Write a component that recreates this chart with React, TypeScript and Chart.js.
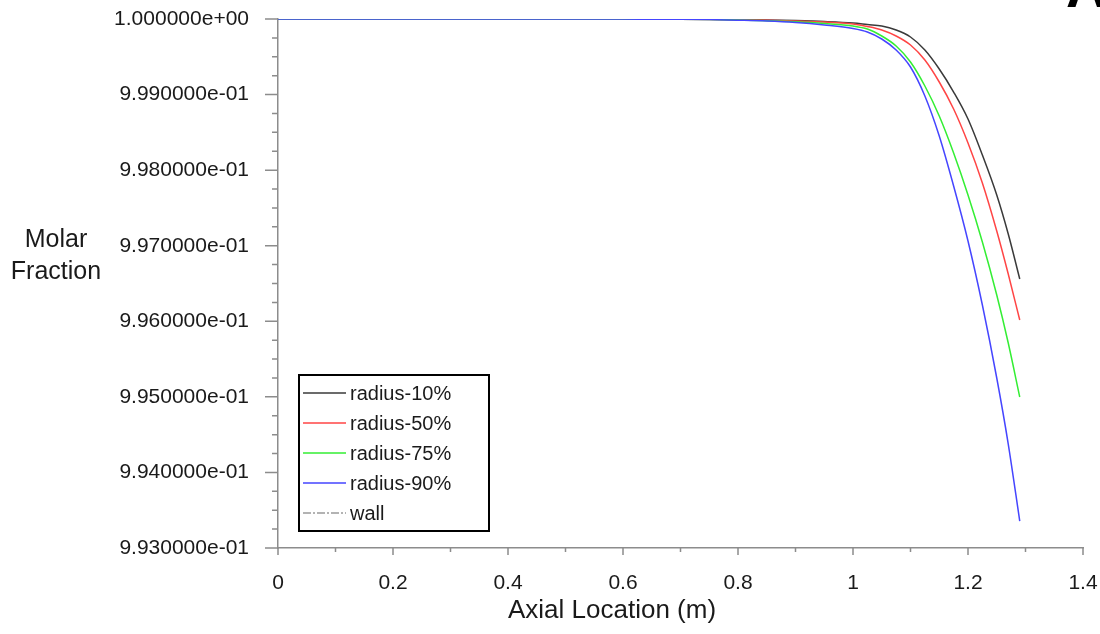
import React, { useEffect, useRef } from "react";
import { Chart, registerables } from "chart.js";

Chart.register(...registerables);

// ---------- data ----------
const axialLocation = [0, 0.1, 0.2, 0.3, 0.4, 0.5, 0.6, 0.7, 0.75, 0.8, 0.85, 0.9, 0.95, 1.0, 1.025, 1.05, 1.075, 1.1, 1.125, 1.15, 1.175, 1.2, 1.225, 1.25, 1.27, 1.29];

const radius10 = [1, 1, 1, 1, 1, 1, 0.999999, 0.9999974, 0.9999954, 0.9999921, 0.9999868, 0.9999788, 0.9999669, 0.9999471, 0.9999272, 0.9999074, 0.9998544, 0.9997618, 0.9995898, 0.9993383, 0.999034, 0.9986767, 0.9982003, 0.997671, 0.9971549, 0.9965594];
const radius50 = [1, 1, 1, 1, 1, 1, 0.9999987, 0.9999974, 0.9999947, 0.9999907, 0.9999841, 0.9999735, 0.9999603, 0.9999338, 0.9999008, 0.9998544, 0.999775, 0.9996559, 0.9994574, 0.9991663, 0.998809, 0.9983591, 0.9978298, 0.9971946, 0.9966256, 0.9960169];
const radius75 = [1, 1, 1, 1, 1, 1, 0.9999987, 0.9999967, 0.9999934, 0.9999868, 0.9999775, 0.9999629, 0.9999405, 0.9999074, 0.9998677, 0.999775, 0.9996427, 0.999431, 0.9991134, 0.9987164, 0.9982268, 0.997671, 0.997049, 0.9963477, 0.9957125, 0.9949979];
const radius90 = [1, 1, 1, 1, 1, 1, 0.9999987, 0.999996, 0.9999921, 0.9999841, 0.9999735, 0.9999537, 0.9999206, 0.9998743, 0.999828, 0.9997353, 0.9995898, 0.9993648, 0.9989811, 0.9984517, 0.9977901, 0.9970623, 0.9962154, 0.9952494, 0.9943759, 0.993357];
const wall: number[] = [];

const seriesLabels = ["radius-10%", "radius-50%", "radius-75%", "radius-90%", "wall"];

const xTickValues = [0, 0.2, 0.4, 0.6, 0.8, 1, 1.2, 1.4];
const xTickLabels = ["0", "0.2", "0.4", "0.6", "0.8", "1", "1.2", "1.4"];
const yTickValues = [0.993, 0.994, 0.995, 0.996, 0.997, 0.998, 0.999, 1.0];
const yTickLabels = ["9.930000e-01", "9.940000e-01", "9.950000e-01", "9.960000e-01", "9.970000e-01", "9.980000e-01", "9.990000e-01", "1.000000e+00"];

const xTitle = "Axial Location (m)";
const yTitleLines = ["Molar", "Fraction"];

// ---------- styles ----------
const FONT = "'Liberation Sans', Arial, Helvetica, sans-serif";
const AXIS_COLOR = "#8c8c8c";
const TEXT_COLOR = "#1a1a1a";

function toPoints(xs: number[], ys: number[]) {
  return ys.map((y, i) => ({ x: xs[i], y }));
}

function findIndex(vals: number[], v: number) {
  for (let i = 0; i < vals.length; i++) if (Math.abs(vals[i] - v) < 1e-9) return i;
  return -1;
}

const ticksPlugin = {
  id: "majorMinorTicks",
  afterDraw(chart: any) {
    const ctx = chart.ctx;
    const xs = chart.scales.x;
    const ys = chart.scales.y;
    ctx.save();
    ctx.strokeStyle = AXIS_COLOR;
    ctx.lineWidth = 1.5;
    ctx.beginPath();
    ys.ticks.forEach((t: any) => {
      const py = ys.getPixelForValue(t.value);
      const len = findIndex(yTickValues, t.value) >= 0 ? 13 : 6;
      ctx.moveTo(ys.right - len, py);
      ctx.lineTo(ys.right, py);
    });
    xs.ticks.forEach((t: any) => {
      const px = xs.getPixelForValue(t.value);
      const len = findIndex(xTickValues, t.value) >= 0 ? 7 : 4;
      ctx.moveTo(px, xs.top);
      ctx.lineTo(px, xs.top + len);
    });
    ctx.stroke();
    ctx.restore();
  },
};

const decorPlugin = {
  id: "decor",
  afterDraw(chart: any) {
    const ctx = chart.ctx;
    const area = chart.chartArea;
    ctx.save();
    // axis titles
    ctx.fillStyle = TEXT_COLOR;
    ctx.font = `26px ${FONT}`;
    ctx.textAlign = "center";
    ctx.textBaseline = "middle";
    ctx.fillText(xTitle, area.left + 334, area.bottom + 63);
    ctx.font = `25px ${FONT}`;
    yTitleLines.forEach((line, i) => {
      ctx.fillText(line, area.left - 222, area.top + 221 + i * 32);
    });

    // legend box
    const lx = area.left + 21;
    const ly = area.top + 356;
    ctx.lineWidth = 2;
    ctx.strokeStyle = "#000";
    ctx.strokeRect(lx, ly, 190, 156);
    ctx.font = `20px ${FONT}`;
    ctx.textAlign = "left";
    chart.data.datasets.forEach((ds: any, i: number) => {
      const yy = ly + 18 + i * 30;
      ctx.save();
      ctx.strokeStyle = ds.borderColor;
      ctx.lineWidth = 1.5;
      ctx.setLineDash(ds.borderDash || []);
      ctx.beginPath();
      ctx.moveTo(lx + 4, yy);
      ctx.lineTo(lx + 47, yy);
      ctx.stroke();
      ctx.restore();
      ctx.fillStyle = TEXT_COLOR;
      ctx.fillText(ds.label, lx + 51, yy + 1);
    });

    // partial logo at top-right corner
    ctx.fillStyle = "#000";
    ctx.font = `bold 56px ${FONT}`;
    ctx.textAlign = "left";
    ctx.textBaseline = "alphabetic";
    ctx.fillText("A", chart.width - 34, 7);
    ctx.restore();
  },
};

export default function App() {
  const canvasRef = useRef<HTMLCanvasElement>(null);

  useEffect(() => {
    const colors = ["#3a3a3a", "#ff4545", "#33ee33", "#4545ff", "#9a9a9a"];
    const series = [radius10, radius50, radius75, radius90, wall];
    const orders = [3, 2, 1, 0, 4];
    const datasets = series.map((s, i) => ({
      label: seriesLabels[i],
      data: toPoints(axialLocation, s),
      borderColor: colors[i],
      backgroundColor: colors[i],
      borderWidth: 1.5,
      borderDash: i === 4 ? [8, 2, 2, 2] : [],
      pointRadius: 0,
      fill: false,
      cubicInterpolationMode: "monotone" as const,
      order: orders[i],
    }));

    const chart = new Chart(canvasRef.current as HTMLCanvasElement, {
      type: "line",
      data: { datasets },
      options: {
        animation: false,
        responsive: true,
        maintainAspectRatio: false,
        layout: { autoPadding: false, padding: { left: 0, right: 17, top: 19, bottom: 0 } },
        plugins: {
          legend: { display: false },
          tooltip: { enabled: false },
          title: { display: false },
        },
        scales: {
          x: {
            type: "linear",
            min: 0,
            max: 1.4,
            grid: { display: false, drawTicks: false, drawOnChartArea: false },
            border: { display: true, color: AXIS_COLOR, width: 1.5 },
            ticks: {
              stepSize: 0.1,
              autoSkip: false,
              maxRotation: 0,
              minRotation: 0,
              padding: 23,
              color: TEXT_COLOR,
              font: { family: FONT, size: 21 },
              callback: (v: any) => {
                const i = findIndex(xTickValues, Number(v));
                return i >= 0 ? xTickLabels[i] : "";
              },
            },
            afterFit: (s: any) => {
              s.height = 86;
              s.paddingLeft = 0;
              s.paddingRight = 0;
            },
          },
          y: {
            type: "linear",
            min: 0.993,
            max: 1.0,
            grid: { display: false, drawTicks: false, drawOnChartArea: false },
            border: { display: true, color: AXIS_COLOR, width: 1.5 },
            ticks: {
              stepSize: 0.00025,
              autoSkip: false,
              padding: 29,
              color: TEXT_COLOR,
              font: { family: FONT, size: 21 },
              callback: (v: any) => {
                const i = findIndex(yTickValues, Number(v));
                return i >= 0 ? yTickLabels[i] : "";
              },
            },
            afterFit: (s: any) => {
              s.width = 278;
              s.paddingTop = 0;
              s.paddingBottom = 0;
            },
          },
        },
      },
      plugins: [ticksPlugin, decorPlugin],
    });
    return () => chart.destroy();
  }, []);

  return (
    <div style={{ position: "absolute", left: 0, top: 0, width: 1100, height: 634, background: "#fff" }}>
      <canvas ref={canvasRef} />
    </div>
  );
}
